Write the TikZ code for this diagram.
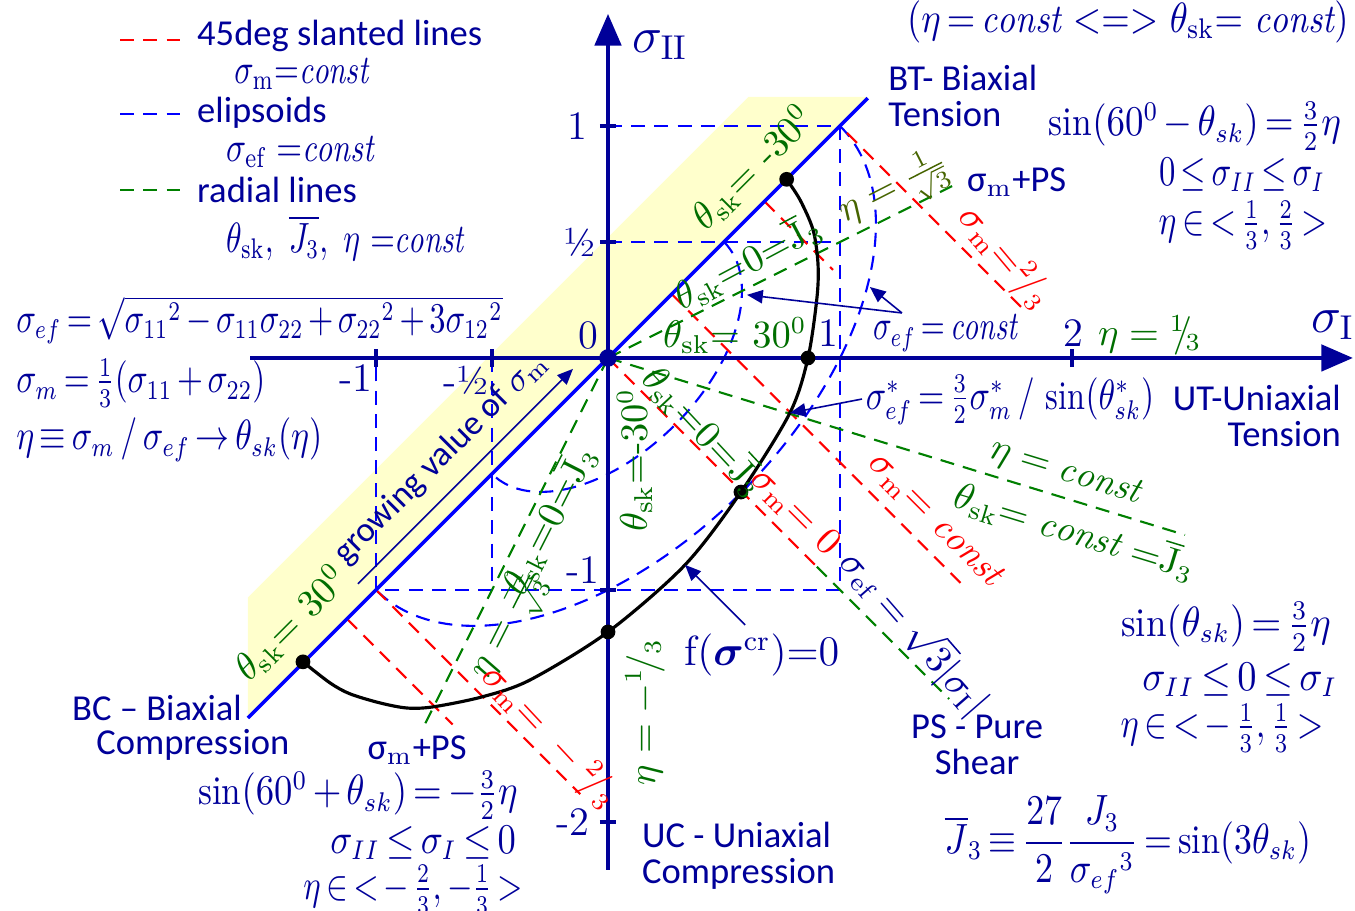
\documentclass[tikz,border=0pt]{standalone}
\usepackage{amsmath}
\usepackage{amssymb}
\usepackage{graphicx}
\usepackage{fontspec}
\setsansfont{Carlito}
\usepackage{tikz}
\usetikzlibrary{arrows.meta}

\definecolor{navy}{RGB}{0,0,153}
\definecolor{lineblue}{RGB}{0,0,255}
\definecolor{dgreen}{RGB}{0,128,0}
\definecolor{tgreen}{RGB}{0,110,0}
\definecolor{olive}{RGB}{70,100,0}
\definecolor{lyellow}{RGB}{255,255,204}

% narrow, tall formula look
\newcommand{\nq}[2][0.9]{\scalebox{#1}[1.1]{\thickmuskip=3mu\relax\medmuskip=2.5mu\relax #2}}

\begin{document}
\begin{tikzpicture}[x=2.32cm,y=2.32cm,
  bdash/.style={lineblue,line width=0.6pt,dash pattern=on 4pt off 2.6pt},
  rdash/.style={red,line width=0.6pt,dash pattern=on 4pt off 2.6pt},
  gdash/.style={dgreen,line width=0.6pt,dash pattern=on 4pt off 2.6pt},
  axis/.style={navy,line width=1.1pt,-{Triangle[length=9pt,width=7.5pt]}},
  tickmark/.style={navy,line width=0.9pt},
  lbl/.style={navy,font=\sffamily\fontsize{10.4}{10.3}\selectfont,inner sep=1pt},
  frm/.style={navy,font=\fontsize{10.5}{12}\selectfont,inner sep=1pt},
  glab/.style={tgreen,font=\fontsize{10.5}{12}\selectfont,inner sep=1pt},
  rlab/.style={red,font=\fontsize{10.5}{12}\selectfont,inner sep=1pt},
  num/.style={navy,font=\fontsize{11.5}{12}\selectfont,inner sep=1pt},
  dot/.style={circle,fill=black,inner sep=0pt,minimum size=4.2pt},
  pointer/.style={navy,line width=0.45pt,-{Triangle[length=4.5pt,width=3.8pt]}}]
  \useasboundingbox (-2.621,-2.384) rectangle (3.220,1.543);

  % region of sigma_m growth along the biaxial line
  \fill[lyellow] (-1.552,-1.032) -- (0.605,1.125) -- (1.12,1.125) -- (-1.552,-1.552) -- cycle;

  % legend
  \draw[rdash] (-2.103,1.371) -- (-1.845,1.371);
  \draw[bdash] (-2.103,1.052) -- (-1.845,1.052);
  \draw[gdash] (-2.103,0.724) -- (-1.845,0.724);
  \node[lbl,anchor=west] (legr) at (-1.789,1.388) {45deg slanted lines};
  \node[frm,anchor=west] (legrm) at (-1.629,1.224) {\nq[0.83]{$\sigma_{\mathrm{m}}{=}\mathit{const}$}};
  \node[lbl,anchor=west] (legb) at (-1.789,1.056) {elipsoids};
  \node[frm,anchor=west] (legbm) at (-1.664,0.888) {\nq[0.86]{$\sigma_{\mathrm{ef}}\ {=}\mathit{const}$}};
  \node[lbl,anchor=west] (legg) at (-1.789,0.724) {radial lines};
  \node[frm,anchor=west] (leggm) at (-1.664,0.517) {\nq[0.82]{$\theta_{\mathrm{sk}},\ \overline{J_3},\ \eta\ {=}\mathit{const}$}};

  % sigma_ef = const : box lines and ellipses
  \draw[bdash] (0,1) -- (1,1) -- (1,-1) -- (-1,-1) -- (-1,0);
  \draw[bdash] (0,0.5) -- (1,0.5);
  \draw[bdash] (-0.5,0) -- (-0.5,-1);
  \draw[bdash,rotate=45] (1.4142,0) arc[start angle=0,end angle=-180,x radius=1.4142,y radius=0.8165];
  \draw[bdash,rotate=45] (0.7071,0) arc[start angle=0,end angle=-180,x radius=0.7071,y radius=0.4082];

  % sigma_m = const : 45deg lines
  \draw[rdash] (1.03,0.97) -- (1.8,0.2);
  \draw[rdash] (0.675,0.675) -- (0.97,0.38);
  \draw[rdash] (0.275,0.275) -- (1.53,-0.98);
  \draw[rdash] (0,0) -- (0.9,-0.9);
  \draw[rdash] (-1,-1) -- (-0.12,-1.88);
  \draw[rdash] (-1.125,-1.125) -- (-0.67,-1.58);

  % radial lines
  \draw[gdash] (0,0) -- (1.483,0.741);
  \draw[gdash] (0,0) -- (-0.79,-1.58);
  \draw[gdash] (0,0) -- (2.487,-0.763);
  \draw[gdash] (0.9,-0.9) -- (1.47,-1.47);

  % axes
  \coordinate (xs) at (-1.543,0);
  \coordinate (xe) at (3.211,0);
  \coordinate (ys) at (0,-2.207);
  \coordinate (ye) at (0,1.483);
  \draw[axis] (xs) -- (xe);
  \draw[axis] (ys) -- (ye);
  \foreach \t in {-1,-0.5,2}
    \draw[tickmark] (\t,-0.04) -- (\t,0.04);
  \foreach \t in {1,0.5,-1,-2}
    \draw[tickmark] (-0.035,\t) -- (0.035,\t);
  \node[num,font=\fontsize{14}{14}\selectfont] (sI) at (3.125,0.142) {$\sigma_{\mathrm{I}}$};
  \node[num,font=\fontsize{14}{14}\selectfont] (sII) at (0.224,1.349) {$\sigma_{\mathrm{II}}$};
  \node[num] (t1y) at (-0.13,1.0) {1};
  \node[num] (thy) at (-0.12,0.5) {½};
  \node[num] (t0) at (-0.086,0.095) {0};
  \node[num] (t1x) at (0.948,0.108) {1};
  \node[num] (t2x) at (2.004,0.108) {2};
  \node[num] (tm1x) at (-1.086,-0.086) {-1};
  \node[num] (tmhx) at (-0.612,-0.095) {-½};
  \node[num] (tm1y) at (-0.108,-0.914) {-1};
  \node[num] (tm2y) at (-0.151,-2.0) {-2};

  % biaxial line
  \draw[lineblue,line width=1pt] (-1.552,-1.552) -- (1.12,1.12);

  % failure curve
  \draw[black,line width=0.9pt] plot[smooth] coordinates {(-1.315,-1.31) (-1.198,-1.401)
    (-1.112,-1.448) (-0.983,-1.487) (-0.866,-1.509) (-0.754,-1.504) (-0.543,-1.461)
    (-0.336,-1.388) (0,-1.181) (0.332,-0.892) (0.573,-0.578)
    (0.784,-0.237) (0.862,0) (0.901,0.263) (0.905,0.409) (0.884,0.552) (0.828,0.681) (0.77,0.77)};
  \node[dot] (pbt) at (0.77,0.77) {};
  \node[dot] (put) at (0.862,0) {};
  \node[dot] (pps) at (0.573,-0.578) {};
  \node[dot] (puc) at (0,-1.181) {};
  \node[dot] (pbc) at (-1.315,-1.31) {};
  \node[circle,fill=navy,inner sep=0pt,minimum size=5pt] (O) at (0,0) {};

  % green labels
  \node[glab,rotate=45] (th1) at (0.625,0.819) {$\theta_{\mathrm{sk}}{=}\ \text{-}30^{0}$};
  \node[glab,rotate=45] (th2) at (-1.365,-1.145) {$\theta_{\mathrm{sk}}{=}\ 30^{0}$};
  \node[glab,rotate=28] (th3) at (0.6,0.418) {$\theta_{\mathrm{sk}}{=}0{=}\overline{\mathrm{J}}_{3}$};
  \node[glab] (th4) at (0.547,0.095) {$\theta_{\mathrm{sk}}{=}\ 30^{0}$};
  \node[glab,olive,rotate=27] (eta1) at (1.237,0.724) {$\eta = \frac{1}{\sqrt{3}}$};
  \node[glab,rotate=-47] (th5) at (0.418,-0.31) {$\theta_{\mathrm{sk}}{=}0{=}\overline{\mathrm{J}}_{3}$};
  \node[glab,rotate=90] (th6) at (0.116,-0.44) {$\theta_{\mathrm{sk}}{=}\text{-}30^{0}$};
  \node[glab,rotate=63] (th7) at (-0.259,-0.698) {$\theta_{\mathrm{sk}}{=}0{=}\overline{\mathrm{J}}_{3}$};
  \node[glab,rotate=63] (eta2) at (-0.431,-1.151) {$\eta = \frac{-1}{\sqrt{3}}$};
  \node[glab,rotate=90] (eta3) at (0.159,-1.526) {$\eta = -{}^{1}\!/_{3}$};
  \node[glab,rotate=-17] (eta4) at (1.97,-0.496) {$\eta = \mathit{const}$};
  \node[glab,rotate=-17] (th8) at (2.013,-0.745) {$\theta_{\mathrm{sk}}{=}\ \mathit{const}\ {=}\overline{\mathrm{J}}_{3}$};
  \node[glab] (eta5) at (2.335,0.099) {$\eta = {}^{1}\!\!/\!_{3}$};

  % red labels
  \node[rlab,rotate=-50] (sm1) at (1.711,0.431) {$\sigma_{\mathrm{m}}{=}{}^{2}\!/_{3}$};
  \node[rlab,rotate=-45] (sm2) at (0.806,-0.664) {$\sigma_{\mathrm{m}}{=}\ 0$};
  \node[rlab,rotate=-45] (sm3) at (1.409,-0.698) {$\sigma_{\mathrm{m}}{=}\ \mathit{const}$};
  \node[rlab,rotate=-47] (sm4) at (-0.25,-1.634) {$\sigma_{\mathrm{m}}{=}\ -{}^{2}\!/_{3}$};
  \node[frm,rotate=-49] (sps) at (1.323,-1.181) {$\sigma_{\mathrm{ef}} = \sqrt{3}|\sigma_{\mathrm{I}}|$};

  % growing sigma_m
  \coordinate (g0) at (-1.078,-0.974);
  \coordinate (g1) at (-0.151,-0.047);
  \draw[pointer] (g0) -- (g1);
  \node[lbl,font=\sffamily\fontsize{9.9}{10}\selectfont,rotate=45] (grow) at (-0.72,-0.43) {growing value of $\sigma_{\mathrm{m}}$};

  % state labels
  \node[lbl,anchor=west,align=left] (bt) at (1.19,1.129) {BT- Biaxial\\Tension};
  \node[lbl,anchor=east,align=right] (ut) at (3.177,-0.25) {UT-Uniaxial\\Tension};
  \node[lbl,align=center] (ps) at (1.591,-1.668) {PS - Pure\\Shear};
  \node[lbl,anchor=west,align=left] (uc) at (0.129,-2.147) {UC - Uniaxial\\Compression};
  \node[lbl,anchor=west] (bc1) at (-2.328,-1.509) {BC -- Biaxial};
  \node[lbl,anchor=west] (bc2) at (-2.224,-1.668) {Compression};
  \node[lbl,anchor=west] (mps1) at (1.53,0.759) {σ$_{\mathrm{m}}$+PS};
  \node[lbl] (mps2) at (-0.823,-1.69) {σ$_{\mathrm{m}}$+PS};

  % formulas
  \node[frm,anchor=west] (f1) at (-2.569,0.164) {\nq[0.845]{$\sigma_{ef} = \sqrt{\sigma_{11}{}^{2} - \sigma_{11}\sigma_{22} + \sigma_{22}{}^{2} + 3\sigma_{12}{}^{2}}$}};
  \node[frm,anchor=west] (f2) at (-2.569,-0.108) {\nq[0.865]{$\sigma_{m} = \tfrac{1}{3}(\sigma_{11} + \sigma_{22})$}};
  \node[frm,anchor=west] (f3) at (-2.569,-0.353) {\nq[0.88]{$\eta \equiv \sigma_{m} \,/\, \sigma_{ef} \rightarrow \theta_{sk}(\eta)$}};
  \node[frm] (f4) at (2.53,1.0) {\nq[0.96]{$\sin(60^{0} - \theta_{sk}) = \tfrac{3}{2}\eta$}};
  \node[frm] (f5) at (2.733,0.789) {\nq[0.85]{$0 \le \sigma_{II} \le \sigma_{I}$}};
  \node[frm] (f6) at (2.737,0.573) {\nq[0.87]{$\eta \in {<}\,\tfrac{1}{3},\tfrac{2}{3}\,{>}$}};
  \node[frm] (f7) at (-1.078,-1.884) {\nq[0.955]{$\sin(60^{0} + \theta_{sk}) = -\tfrac{3}{2}\eta$}};
  \node[frm] (f8) at (-0.797,-2.09) {\nq[0.95]{$\sigma_{II} \le \sigma_{I} \le 0$}};
  \node[frm] (f9) at (-0.841,-2.293) {\nq[0.85]{$\eta \in {<}-\tfrac{2}{3},-\tfrac{1}{3}\,{>}$}};
  \node[frm] (f10) at (2.664,-1.159) {\nq[1]{$\sin(\theta_{sk}) = \tfrac{3}{2}\eta$}};
  \node[frm] (f11) at (2.724,-1.388) {\nq[1]{$\sigma_{II} \le 0 \le \sigma_{I}$}};
  \node[frm] (f12) at (2.647,-1.595) {\nq[0.89]{$\eta \in {<}-\tfrac{1}{3},\tfrac{1}{3}\,{>}$}};
  \node[frm] (f13) at (2.241,-2.099) {\nq[0.93]{$\overline{J}_{3} \equiv \dfrac{27}{2}\dfrac{J_{3}}{\sigma_{ef}{}^{3}} = \sin(3\theta_{sk})$}};
  \node[frm] (f14) at (1.733,-0.181) {\nq[0.875]{$\sigma^{*}_{ef} = \tfrac{3}{2}\sigma^{*}_{m} \,/\, \sin(\theta^{*}_{sk})$}};
  \node[frm] (f15) at (1.453,0.108) {\nq[0.8]{$\sigma_{ef} = \mathit{const}$}};
  \node[frm] (f16) at (2.241,1.448) {\nq[0.95]{$(\eta = \mathit{const}\ {<}{=}{>}\ \theta_{\mathrm{sk}}{=}\ \mathit{const})$}};
  \node[frm,font=\fontsize{12}{12}\selectfont] (f17) at (0.664,-1.28) {$\mathrm{f}(\boldsymbol{\sigma}^{\mathrm{cr}}){=}0$};

  % pointers
  \coordinate (pe0) at (1.267,0.194);
  \coordinate (pe1) at (0.599,0.272);
  \coordinate (pe2) at (1.129,0.306);
  \coordinate (ps0) at (1.095,-0.177);
  \coordinate (ps1) at (0.784,-0.237);
  \coordinate (pf0) at (0.591,-1.151);
  \coordinate (pf1) at (0.332,-0.892);
  \draw[pointer] (pe0) -- (pe1);
  \draw[pointer] (pe0) -- (pe2);
  \draw[pointer] (ps0) -- (ps1);
  \draw[pointer] (pf0) -- (pf1);
\end{tikzpicture}
\end{document}
